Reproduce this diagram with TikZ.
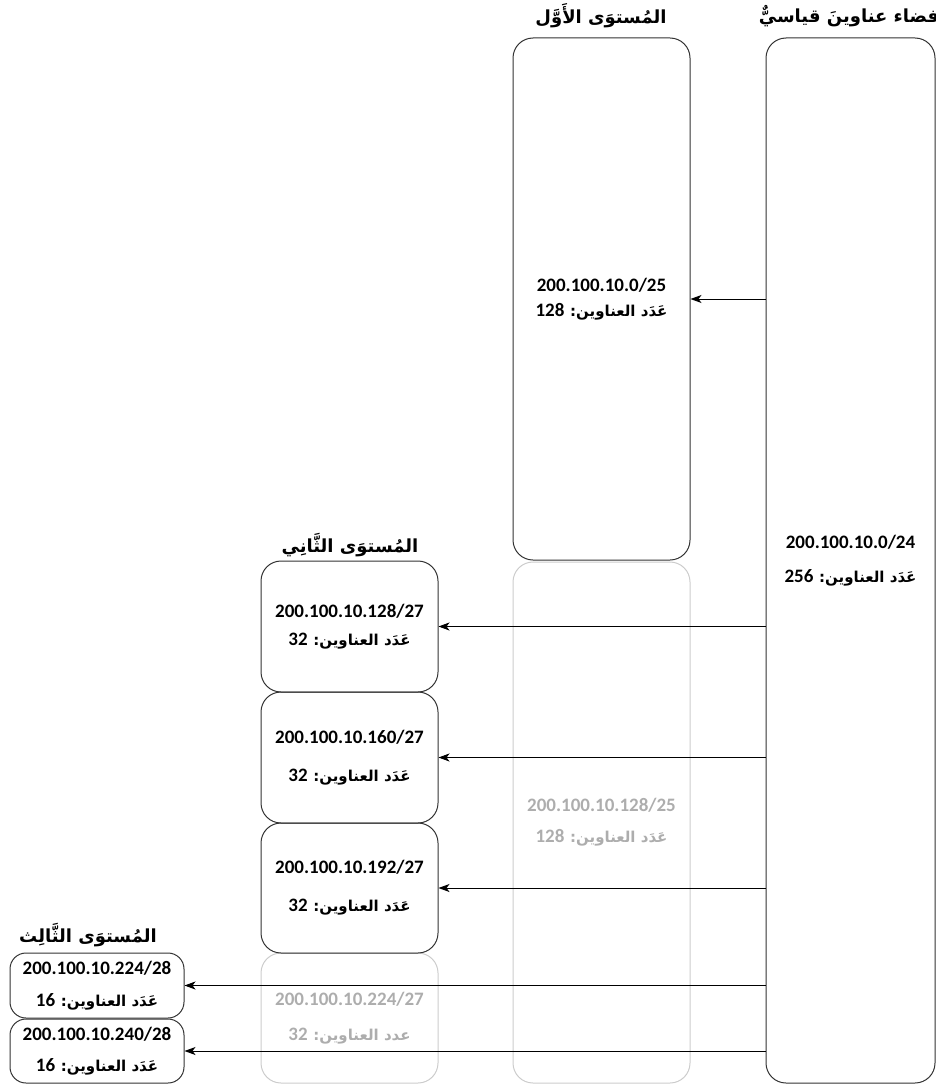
\documentclass[tikz,border=0pt]{standalone}
\usepackage{fontspec}
\setmainfont{Carlito}
\newfontfamily\arabicfont[Script=Arabic]{DejaVu Sans}
\TeXXeTstate=1
\usetikzlibrary{arrows.meta,positioning}
% count line: arabic word + number, right to left
\newcommand{\cnt}[2][عَدَد]{\beginR{\arabicfont\fontsize{15}{15}\selectfont #1 العناوين:} #2\endR}
\newcommand{\ar}[1]{{\arabicfont\beginR #1\endR}}

\begin{document}
\begin{tikzpicture}[x=1pt,y=-1pt,
  box/.style={draw=black!80,line width=1pt,rounded corners=20pt,minimum width=177pt,inner sep=0pt,align=center,font=\bfseries\fontsize{19}{19}\selectfont},
  ghost/.style={box,draw=black!20,text=black!32},
  ttl/.style={inner sep=0pt,font=\bfseries\fontsize{18}{18}\selectfont},
  arr/.style={-{Stealth[length=11pt,width=8pt,inset=3pt]},line width=0.9pt}]
\useasboundingbox (0,0) rectangle (936,1086);
% faded blocks
\node[ghost,minimum height=521pt] (g1) at (601.5,822.5) {200.100.10.128/25\\[12pt]\cnt{128}};
\node[ghost,minimum height=130pt] (g2) at (349.5,1018) {200.100.10.224/27\\[16pt]\cnt[عدد]{32}};
% address space and levels
\node[box,minimum width=169pt,minimum height=1045pt] (space) at (850.5,560.5) {200.100.10.0/24\\[15pt]\cnt{256}};
\node[box,minimum height=522pt] (l1) at (601.5,299) {200.100.10.0/25\\[6pt]\cnt{128}};
\node[box,minimum height=131pt] (l2a) at (349.5,626.5) {200.100.10.128/27\\[9pt]\cnt{32}};
\node[box,minimum height=131pt] (l2b) at (349.5,757.5) {200.100.10.160/27\\[19pt]\cnt{32}};
\node[box,minimum height=130pt] (l2c) at (349.5,888) {200.100.10.192/27\\[19pt]\cnt{32}};
\node[box,rounded corners=16pt,minimum width=174pt,minimum height=65pt] (l3a) at (97,985.5) {200.100.10.224/28\\[13pt]\cnt{16}};
\node[box,rounded corners=16pt,minimum width=174pt,minimum height=64pt] (l3b) at (97,1051) {200.100.10.240/28\\[12pt]\cnt{16}};
% titles
\node[ttl] (t0) at (849,16) {\ar{فضاء عناوينَ قياسيٌّ}};
\node[ttl] (t1) at (601,16) {\ar{المُستوَى الأَوَّل}};
\node[ttl] (t2) at (350,545) {\ar{المُستوَى الثَّانِي}};
\node[ttl] (t3) at (88,935) {\ar{المُستوَى الثَّالِث}};
% arrows
\draw[arr] (space.west |- l1.east) -- (l1.east);
\draw[arr] (space.west |- l2a.east) -- (l2a.east);
\draw[arr] (space.west |- l2b.east) -- (l2b.east);
\draw[arr] (space.west |- l2c.east) -- (l2c.east);
\draw[arr] (space.west |- l3a.east) -- (l3a.east);
\draw[arr] (space.west |- l3b.east) -- (l3b.east);
\end{tikzpicture}
\end{document}
